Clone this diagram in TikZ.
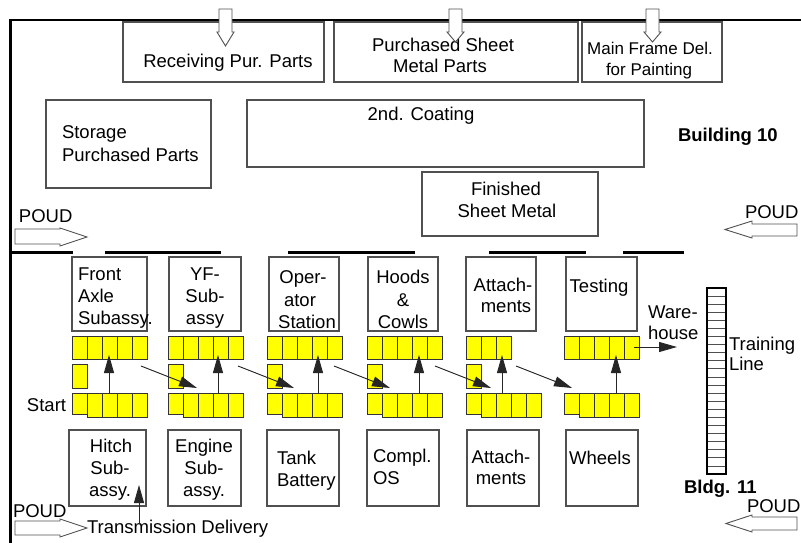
\documentclass[tikz,border=0pt]{standalone}
\usepackage{fontspec}
\setmainfont{Liberation Sans}
\usetikzlibrary{arrows.meta}

\definecolor{edge}{HTML}{505050}
\definecolor{belt}{HTML}{FFFF00}

% one row of conveyor cells: left x, top y, number of cells, height
\newcommand\beltrow[4]{%
  \foreach \k in {1,...,#3} {\draw[cell] ({#1+15*(\k-1)},#2) rectangle ++(15,#4);}}
% hollow delivery arrow pointing down: centre x, tip y
\newcommand\dropin[2]{%
  \draw[hollow] ({#1-6.5},9) -- ({#1+6.5},9) -- ({#1+6.5},32) -- ({#1+8.5},32)
    -- (#1,#2) -- ({#1-8.5},32) -- ({#1-6.5},32) -- cycle;}

\begin{document}
\begin{tikzpicture}[x=1pt,y=-1pt,
  every node/.style={inner sep=0pt, outer sep=0pt},
  area/.style={draw=edge, line width=1.2pt, fill=white},
  lbl/.style={font=\fontsize{18.5}{22}\selectfont, anchor=base},
  lbll/.style={font=\fontsize{18.5}{22}\selectfont, anchor=base west},
  lbls/.style={font=\fontsize{17}{21}\selectfont, anchor=base},
  bold/.style={font=\fontsize{18.5}{22}\selectfont\bfseries, anchor=base west},
  cell/.style={draw=black!80, line width=1pt, fill=belt},
  flow/.style={-{Triangle[length=18pt,width=10pt]}, line width=0.9pt, draw=black!85, fill=black},
  wall/.style={line width=2.5pt, black},
  dock/.style={line width=3pt, black},
  hollow/.style={draw=edge, line width=0.9pt, fill=white},
]
\useasboundingbox (0,0) rectangle (801,543);
\fill[white] (0,0) rectangle (801,543);

% building outline and dock doors
\draw[wall] (10.5,543) -- (10.5,20) -- (801,20);
\draw[dock] (12,252) -- (73,252);
\draw[dock] (105,252) -- (221,252);
\draw[dock] (288,252) -- (415,252);
\draw[dock] (489,252) -- (586,252);
\draw[dock] (623,252) -- (684,252);

% upper areas
\node[area, minimum width=201, minimum height=60] (recv) at (223.5,52) {};
\node[area, minimum width=244, minimum height=60] (sheet) at (456,52) {};
\node[area, minimum width=140, minimum height=60] (frame) at (652,52) {};
\node[area, minimum width=165, minimum height=88] (storage) at (128.5,144) {};
\node[area, minimum width=397, minimum height=67] (coat) at (445.5,133.5) {};
\node[area, minimum width=176, minimum height=64] (finished) at (510,204) {};

\node[lbl] (t-recv) at (228,67) {Receiving Pur. Parts};
\node[lbl] (t-sheet1) at (443,52) {Purchased Sheet};
\node[lbl] (t-sheet2) at (440,73) {Metal Parts};
\node[lbls] (t-frame1) at (650,55) {Main Frame Del.};
\node[lbls] (t-frame2) at (649,76) {for Painting};
\node[lbll] (t-stor1) at (62,139) {Storage};
\node[lbll] (t-stor2) at (62,161) {Purchased Parts};
\node[lbl] (t-coat) at (421,121) {2nd. Coating};
\node[lbl] (t-fin1) at (506,195) {Finished};
\node[lbl] (t-fin2) at (507,217) {Sheet Metal};
\node[bold] (t-b10) at (678,141) {Building 10};

% incoming deliveries at the top
\dropin{225.5}{46}
\dropin{455.5}{42}
\dropin{652.5}{42}

% sub-assembly stations above the line
\node[area, minimum width=75, minimum height=74] (front) at (109.5,294) {};
\node[area, minimum width=72, minimum height=74] (yf) at (205,294) {};
\node[area, minimum width=70, minimum height=74] (oper) at (304,294) {};
\node[area, minimum width=70, minimum height=74] (hoods) at (403,294) {};
\node[area, minimum width=70, minimum height=74] (attA) at (501,294) {};
\node[area, minimum width=71, minimum height=74] (test) at (601.5,294) {};

\node[lbll] (t-fr1) at (78,280) {Front};
\node[lbll] (t-fr2) at (78,302) {Axle};
\node[lbll] (t-fr3) at (78,324) {Subassy.};
\node[lbl] (t-yf1) at (205,280) {YF-};
\node[lbl] (t-yf2) at (205,302) {Sub-};
\node[lbl] (t-yf3) at (205,324) {assy};
\node[lbl] (t-op1) at (303,283) {Oper-};
\node[lbl] (t-op2) at (300,306) {ator};
\node[lbl] (t-op3) at (307,328) {Station};
\node[lbl] (t-ho1) at (403,283) {Hoods};
\node[lbl] (t-ho2) at (403,306) {\&};
\node[lbl] (t-ho3) at (403,328) {Cowls};
\node[lbl] (t-at1) at (503,291) {Attach-};
\node[lbl] (t-at2) at (506,312) {ments};
\node[lbl] (t-te) at (599,292) {Testing};

% sub-assembly stations below the line
\node[area, minimum width=77, minimum height=76] (hitch) at (107.5,468) {};
\node[area, minimum width=73, minimum height=76] (engine) at (204.5,468) {};
\node[area, minimum width=72, minimum height=76] (tank) at (303,468) {};
\node[area, minimum width=72, minimum height=76] (compl) at (403,468) {};
\node[area, minimum width=72, minimum height=76] (attB) at (503,468) {};
\node[area, minimum width=72, minimum height=76] (wheels) at (602,468) {};

\node[lbl] (t-hi1) at (111,452) {Hitch};
\node[lbl] (t-hi2) at (110,474) {Sub-};
\node[lbl] (t-hi3) at (110,496) {assy.};
\node[lbl] (t-en1) at (204,452) {Engine};
\node[lbl] (t-en2) at (204,474) {Sub-};
\node[lbl] (t-en3) at (204,496) {assy.};
\node[lbll] (t-ta1) at (277,464) {Tank};
\node[lbll] (t-ta2) at (277,486) {Battery};
\node[lbll] (t-co1) at (373,462) {Compl.};
\node[lbll] (t-co2) at (373,484) {OS};
\node[lbl] (t-ab1) at (501,463) {Attach-};
\node[lbl] (t-ab2) at (501,484) {ments};
\node[lbl] (t-wh) at (600,464) {Wheels};

% conveyor cells: upper row, single buffer cell, lower row
\foreach \x/\n/\b in {72/5/1, 168/5/1, 267/5/1, 367/5/1, 466/3/1, 564/5/0} {
  \beltrow{\x}{336}{\n}{23}
  \ifnum\b=1 \draw[cell] (\x,364) rectangle ++(15,24); \fi
  \draw[cell] (\x,393) rectangle ++(15,21);
  \beltrow{\x+15}{393}{4}{24}
}

% transfer points on the line
\foreach \i/\x in {1/109, 2/218, 3/318, 4/419, 5/502, 6/616} {
  \coordinate (lo\i) at (\x,393);
  \coordinate (up\i) at (\x,355);
}
\foreach \i/\x in {1/141, 2/238, 3/334, 4/435, 5/516} {
  \coordinate (dep\i) at (\x,366);
  \coordinate (arr\i) at (\x+56,388);
}
\foreach \i in {1,...,6} \draw[flow] (lo\i) -- (up\i);
\foreach \i in {1,...,5} \draw[flow] (dep\i) -- (arr\i);

\coordinate (outA) at (634,347);
\coordinate (outB) at (677,347);
\draw[flow] (outA) -- (outB);

\node[lbll] (t-start) at (27,411) {Start};
\node[lbll] (t-ware1) at (648,318) {Ware-};
\node[lbll] (t-ware2) at (648,339) {house};

% training line in building 11
\draw[line width=2pt, black] (707,288) rectangle (726,474);
\foreach \k in {1,...,22} \draw[edge, line width=0.8pt] (708,{288+8.087*\k}) -- (725,{288+8.087*\k});
\node[lbll] (t-tr1) at (729,350) {Training};
\node[lbll] (t-tr2) at (729,370) {Line};
\node[bold] (t-b11) at (684,493) {Bldg. 11};

% point-of-use delivery arrows
\draw[hollow] (15,229) -- (60,229) -- (60,228) -- (87,237) -- (60,246) -- (60,244) -- (15,244) -- cycle;
\draw[hollow] (797,224) -- (752,224) -- (752,221) -- (725,229.5) -- (752,238) -- (752,236) -- (797,236) -- cycle;
\draw[hollow] (15,521) -- (60,521) -- (60,519) -- (87,528) -- (60,537) -- (60,535) -- (15,535) -- cycle;
\draw[hollow] (797,517) -- (752,517) -- (752,515) -- (726,523.5) -- (752,532) -- (752,530) -- (797,530) -- cycle;
\node[lbll] (t-p1) at (19,222) {POUD};
\node[lbll] (t-p2) at (745,218) {POUD};
\node[lbll] (t-p3) at (13,517) {POUD};
\node[lbll] (t-p4) at (747,512) {POUD};

% transmission delivery into the hitch area
\node[lbll] (t-trans) at (87,533) {Transmission Delivery};
\coordinate (trA) at (139,524);
\coordinate (trB) at (139,485);
\draw[flow] (trA) -- (trB);
\end{tikzpicture}
\end{document}
